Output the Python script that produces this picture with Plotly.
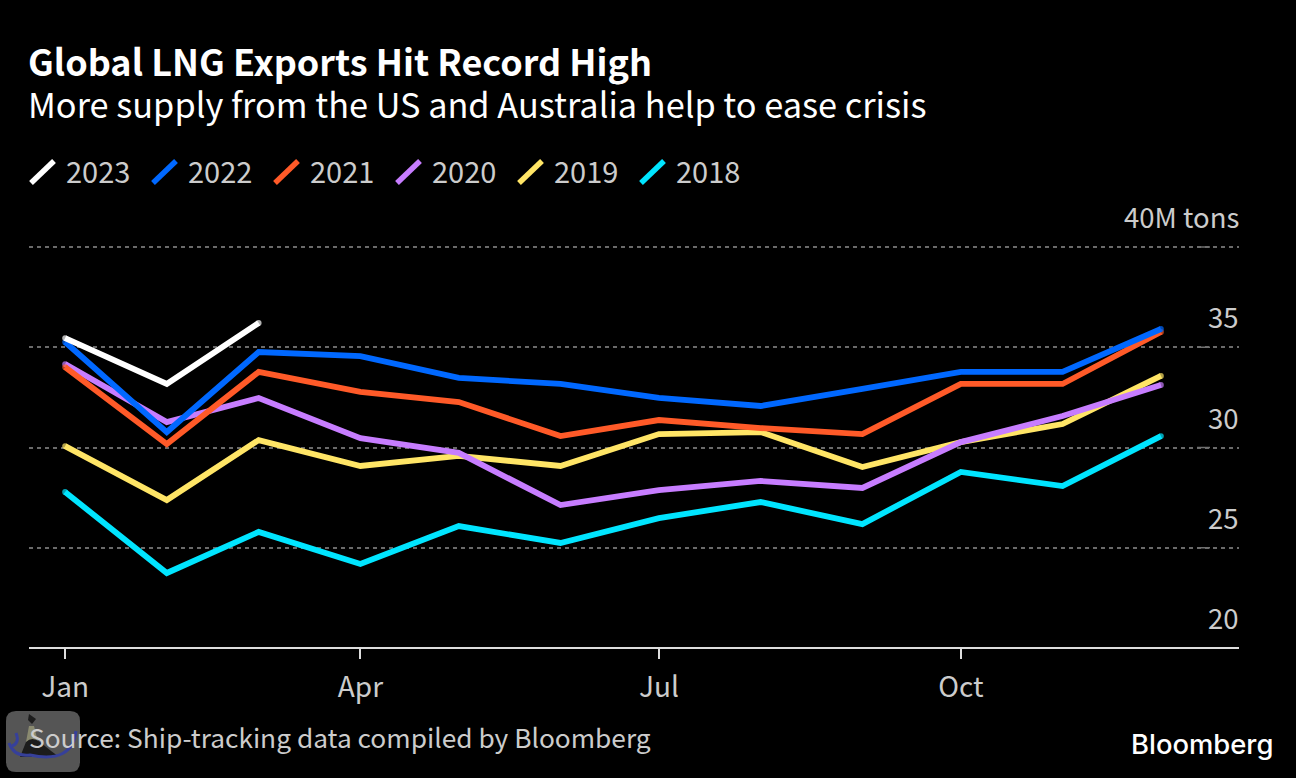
import plotly.graph_objects as go

W = 1296
H = 778
L, R, T, B = 29, 1239, 247, 648
FONT = "Noto Sans CJK SC"

months = ['2023-01-01', '2023-02-01', '2023-03-01', '2023-04-01', '2023-05-01', '2023-06-01',
          '2023-07-01', '2023-08-01', '2023-09-01', '2023-10-01', '2023-11-01', '2023-12-01']
v2023 = [35.46, 33.17, 36.21]
v2022 = [35.26, 30.77, 34.76, 34.56, 33.47, 33.17, 32.47, 32.07, 32.92, 33.77, 33.77, 35.91]
v2021 = [34.01, 30.17, 33.77, 32.77, 32.27, 30.57, 31.37, 30.97, 30.67, 33.17, 33.17, 35.76]
v2020 = [34.16, 31.27, 32.47, 30.47, 29.73, 27.13, 27.88, 28.33, 27.98, 30.27, 31.57, 33.12]
v2019 = [30.07, 27.38, 30.37, 29.08, 29.58, 29.08, 30.67, 30.77, 29.03, 30.27, 31.17, 33.57]
v2018 = [27.78, 23.74, 25.79, 24.19, 26.08, 25.24, 26.48, 27.28, 26.18, 28.78, 28.08, 30.57]

series_names = ['2023', '2022', '2021', '2020', '2019', '2018']
series_vals = [v2023, v2022, v2021, v2020, v2019, v2018]
series_colors = ['#ffffff', '#0068ff', '#ff5a28', '#c77dff', '#ffe566', '#00e5ff']

xtick_vals = ['2023-01-01', '2023-04-01', '2023-07-01', '2023-10-01']
xtick_text = ['Jan', 'Apr', 'Jul', 'Oct']
ytick_vals = [20, 25, 30, 35, 40]
ytick_text = ['20', '25', '30', '35', '40M tons']

LINE_W = 5.8
GRID_COLOR = '#6a6a6a'


# paper coords are relative to the plot area, these take page pixels
def px(x):
    return (x - L) / (R - L)


def py(y):
    return (B - y) / (B - T)


def page_path(template, *pts):
    # pts are page pixel pairs, flattened into the svg path template
    vals = []
    for x, y in pts:
        vals += [px(x), py(y)]
    return template.format(*vals)


def val_to_paper(v):
    return (v - ytick_vals[0]) / (ytick_vals[-1] - ytick_vals[0])


fig = go.Figure()

# oldest year first so the newer lines sit on top
for name, vals, color in reversed(list(zip(series_names, series_vals, series_colors))):
    # end markers stand in for the round line caps
    sizes = [0] * len(vals)
    sizes[0] = sizes[-1] = LINE_W
    fig.add_trace(go.Scatter(x=months[:len(vals)], y=vals, mode='lines+markers', name=name,
                             line=dict(color=color, width=LINE_W),
                             marker=dict(color=color, size=sizes, line=dict(width=0)),
                             showlegend=False))

shapes = []
annos = []


def text(x, y, s, size, color='#cccccc', anchor='left', weight=400, family=FONT):
    annos.append(dict(xref='paper', yref='paper', x=px(x), y=py(y), text=s, showarrow=False,
                      xanchor=anchor, yanchor='middle', borderpad=0, borderwidth=0,
                      font=dict(family=family, size=size, color=color, weight=weight)))


text(28, 60, 'Global LNG Exports Hit Record High', 36, '#ffffff', weight=700)
text(28, 103, 'More supply from the US and Australia help to ease crisis', 34.3, '#ffffff')
text(29, 736, 'Source: Ship-tracking data compiled by Bloomberg', 26.3)
text(1273, 744, 'Bloomberg', 27.4, '#ffffff', 'right', 500, 'Inter')

# legend swatches are diagonal in the original, so it is drawn by hand
legend_x = [30, 152, 274, 396, 518, 640]
for lx, name, color in zip(legend_x, series_names, series_colors):
    shapes.append(dict(type='line', xref='paper', yref='paper', x0=px(lx + 1), y0=py(183),
                       x1=px(lx + 24), y1=py(161), line=dict(color=color, width=5.5)))
    text(lx + 36, 170, name, 29)

# y labels sit above their gridlines, flush right
for v, s in zip(ytick_vals, ytick_text):
    annos.append(dict(xref='paper', yref='y', x=1, y=v, text=s, showarrow=False, xanchor='right',
                      yanchor='middle', yshift=31, borderpad=0, borderwidth=0,
                      font=dict(family=FONT, size=27.5, color='#cccccc')))
    if v > 20:
        shapes.append(dict(type='line', xref='paper', yref='paper', x0=px(1197), x1=px(1210),
                           y0=val_to_paper(v), y1=val_to_paper(v), line=dict(color='#707070', width=1.5)))

# plotly drops gridlines at the range edges, so the 40 line and the axis line are shapes
shapes.append(dict(type='line', xref='paper', yref='paper', x0=0, x1=1, y0=1, y1=1, layer='below',
                   line=dict(color=GRID_COLOR, width=2, dash='4px,4px')))
shapes.append(dict(type='line', xref='paper', yref='paper', x0=0, x1=1, y0=0, y1=0,
                   line=dict(color='#dddddd', width=2)))

# watermark in the bottom-left corner, under the source line
wm = dict(xref='paper', yref='paper', layer='below')
shapes.append(dict(type='path', **wm, fillcolor='#555555', line=dict(width=0),
                   path=page_path('M {} {} L {} {} Q {} {} {} {} L {} {} Q {} {} {} {} L {} {} Q {} {} {} {} L {} {} Q {} {} {} {} Z',
                                  (16, 711), (70, 711), (80, 711), (80, 721), (80, 762), (80, 772), (70, 772),
                                  (16, 772), (6, 772), (6, 762), (6, 721), (6, 711), (16, 711))))
shapes.append(dict(type='path', **wm, fillcolor='#8a8a70', line=dict(width=0),
                   path=page_path('M {} {} L {} {} L {} {} L {} {} Z', (29, 726), (34, 726), (38, 742), (26, 742))))
shapes.append(dict(type='path', **wm, fillcolor='#1c1c1c', line=dict(width=0),
                   path=page_path('M {} {} Q {} {} {} {} Q {} {} {} {} Q {} {} {} {} Z',
                                  (26, 742), (32, 736), (40, 742), (52, 752), (58, 756), (40, 757), (20, 757), (18, 750), (26, 742))))
shapes.append(dict(type='path', **wm, fillcolor='#1c1c1c', line=dict(width=0),
                   path=page_path('M {} {} L {} {} L {} {} L {} {} Z', (29, 714), (36, 719), (32, 724), (28, 720))))
shapes.append(dict(type='path', **wm, fillcolor='rgba(0,0,0,0)', line=dict(color='#36409a', width=3),
                   path=page_path('M {} {} Q {} {} {} {} Q {} {} {} {}',
                                  (9, 743), (14, 757), (30, 755), (72, 764), (76, 731))))
shapes.append(dict(type='path', **wm, fillcolor='rgba(0,0,0,0)', line=dict(color='#36409a', width=3),
                   path=page_path('M {} {} Q {} {} {} {}', (16, 733), (20, 743), (12, 746))))

fig.update_layout(
    width=W, height=H,
    margin=dict(l=L, r=W - R, t=T, b=H - B, pad=0),
    paper_bgcolor='#000000', plot_bgcolor='#000000',
    showlegend=False,
    shapes=shapes,
    annotations=annos,
    font=dict(family=FONT, color='#cccccc'),
    xaxis=dict(type='date', range=['2022-12-21', '2023-12-24 19:00'], tickvals=xtick_vals, ticktext=xtick_text,
               showgrid=False, zeroline=False, showline=False,
               ticks='outside', ticklen=10, tickwidth=2, tickcolor='#dddddd', ticklabelstandoff=4,
               tickfont=dict(family=FONT, size=28, color='#cccccc')),
    yaxis=dict(range=[20, 40], side='right', tickvals=ytick_vals, showticklabels=False, ticks='',
               showgrid=True, gridcolor=GRID_COLOR, griddash='4px,4px', gridwidth=2, zeroline=False, showline=False),
)

fig.write_html("out.html", config=dict(displayModeBar=False),
               post_script="document.body.style.margin='0';document.body.style.background='#000';")
